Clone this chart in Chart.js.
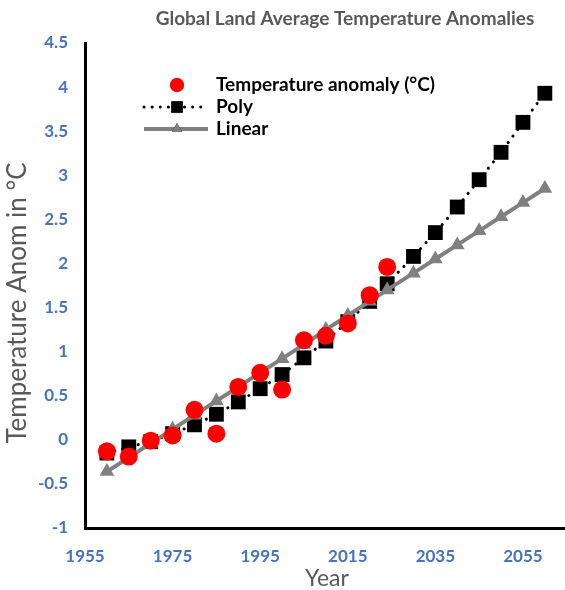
<!DOCTYPE html>
<html>
<head>
<meta charset="utf-8">
<script src="https://cdn.jsdelivr.net/npm/chart.js@4.4.0/dist/chart.umd.min.js"></script>
<style>
  html, body { margin: 0; padding: 0; background: #fff; overflow: hidden; }
  #wrap { width: 565px; height: 590px; }
</style>
</head>
<body>
<div id="wrap"><canvas id="chart" width="565" height="590"></canvas></div>
<script>
// Observed five-year points
const years = [1960, 1965, 1970, 1975, 1980, 1985, 1990, 1995, 2000, 2005, 2010, 2015, 2020, 2024];
const anomaly = [-0.13, -0.19, -0.01, 0.05, 0.34, 0.07, 0.60, 0.76, 0.57, 1.13, 1.18, 1.32, 1.64, 1.96];

// Trend lines, extended to 2060
const fitYears = [1960, 1965, 1970, 1975, 1980, 1985, 1990, 1995, 2000, 2005, 2010, 2015, 2020, 2024, 2030, 2035, 2040, 2045, 2050, 2055, 2060];
const polyFit = [-0.15, -0.08, -0.02, 0.07, 0.17, 0.29, 0.43, 0.58, 0.74, 0.93, 1.12, 1.34, 1.57, 1.77, 2.08, 2.35, 2.64, 2.95, 3.26, 3.60, 3.93];
const linearFit = [-0.36, -0.20, -0.04, 0.12, 0.28, 0.44, 0.60, 0.76, 0.92, 1.08, 1.25, 1.41, 1.57, 1.70, 1.89, 2.05, 2.21, 2.37, 2.53, 2.69, 2.85];

const seriesNames = ['Temperature anomaly (°C)', 'Poly', 'Linear'];
const xTicks = [1955, 1975, 1995, 2015, 2035, 2055];

const GREY_TEXT = '#595959';
const BLUE_TEXT = '#4472C4';
const FONT = 'Lato, "Open Sans", sans-serif';

const pts = (xs, ys) => xs.map((x, i) => ({ x, y: ys[i] }));

// title, axis titles and legend drawn on the canvas
const overlay = {
  id: 'overlay',
  afterDraw(chart) {
    const { ctx, chartArea: a } = chart;
    ctx.save();
    ctx.fillStyle = GREY_TEXT;
    ctx.font = 'bold 19px ' + FONT;
    ctx.textAlign = 'center';
    ctx.textBaseline = 'middle';
    ctx.fillText('Global Land Average Temperature Anomalies', 345, 19);

    ctx.font = '23px ' + FONT;
    ctx.fillText('Year', 327, 579);
    ctx.save();
    ctx.translate(18, 303);
    ctx.rotate(-Math.PI / 2);
    ctx.font = '26px ' + FONT;
    ctx.fillText('Temperature Anom in °C', 0, 0);
    ctx.restore();

    // legend: anomaly, poly, linear
    const lx = a.left + 92, ly = a.top + 42, row = 22;
    const sets = chart.data.datasets;
    ctx.textAlign = 'left';
    ctx.font = 'bold 19px ' + FONT;
    [0, 2, 1].forEach((k, i) => {
      const ds = sets[k];
      const y = ly + i * row;
      if (ds.showLine) {
        ctx.beginPath();
        ctx.strokeStyle = ds.borderColor;
        ctx.lineWidth = ds.borderWidth;
        ctx.lineCap = ds.borderCapStyle || 'butt';
        ctx.setLineDash(ds.borderDash || []);
        ctx.moveTo(lx - 33, y);
        ctx.lineTo(lx + 31, y);
        ctx.stroke();
        ctx.setLineDash([]);
      }
      Chart.helpers.drawPoint(ctx, {
        pointStyle: ds.pointStyle, radius: ds.legendRadius, rotation: 0, borderWidth: 0
      }, lx, y);
      ctx.fillStyle = ds.pointBackgroundColor;
      ctx.fill();
      ctx.fillStyle = '#000';
      ctx.fillText(ds.label, lx + 39, y);
    });
    ctx.restore();
  }
};

new Chart(document.getElementById('chart'), {
  type: 'scatter',
  data: {
    datasets: [
      {
        label: seriesNames[0], data: pts(years, anomaly),
        pointStyle: 'circle', pointRadius: 9, legendRadius: 7,
        pointBackgroundColor: '#FF0000', pointBorderWidth: 0, showLine: false
      },
      {
        label: seriesNames[2], data: pts(fitYears, linearFit), showLine: true,
        borderColor: '#808080', borderWidth: 4,
        pointStyle: 'triangle', pointRadius: 8.5, legendRadius: 6,
        pointBackgroundColor: '#808080', pointBorderWidth: 0
      },
      {
        label: seriesNames[1], data: pts(fitYears, polyFit), showLine: true,
        borderColor: '#000', borderWidth: 3, borderDash: [0.1, 8], borderCapStyle: 'round',
        pointStyle: 'rect', pointRadius: 10.5, legendRadius: 8,
        pointBackgroundColor: '#000', pointBorderWidth: 0
      }
    ]
  },
  options: {
    responsive: false,
    animation: false,
    events: [],
    layout: { autoPadding: false, padding: { top: 43, right: 0, bottom: 0, left: 0 } },
    plugins: { legend: { display: false }, title: { display: false }, tooltip: { enabled: false } },
    scales: {
      x: {
        type: 'linear', min: 1955, max: 2064.6,
        afterBuildTicks: s => { s.ticks = xTicks.map(v => ({ value: v })); },
        afterFit: s => { s.height = 62; s.paddingLeft = 0; s.paddingRight = 0; },
        grid: { display: false, drawTicks: false },
        border: { color: '#000', width: 3 },
        ticks: { color: BLUE_TEXT, font: { family: FONT, size: 17, weight: 'bold' }, padding: 18,
          callback: v => String(v) }
      },
      y: {
        min: -1, max: 4.5,
        afterFit: s => { s.width = 85; },
        grid: { display: false, drawTicks: false },
        border: { color: '#000', width: 3 },
        ticks: { stepSize: 0.5, color: BLUE_TEXT, font: { family: FONT, size: 17, weight: 'bold' }, padding: 17,
          callback: v => String(v) }
      }
    }
  },
  plugins: [overlay]
});
</script>
</body>
</html>
